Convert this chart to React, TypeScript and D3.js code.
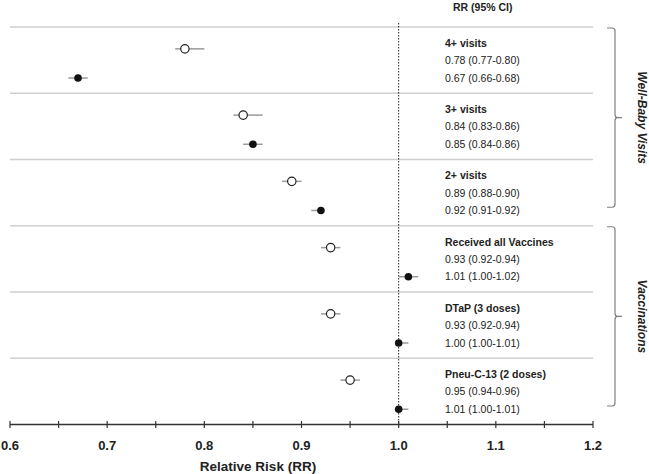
import React from 'react';
import * as d3 from 'd3';

// rows of the forest plot, top to bottom
const groups = ['4+ visits', '3+ visits', '2+ visits', 'Received all Vaccines', 'DTaP (3 doses)', 'Pneu-C-13 (2 doses)'];

// open circles (first estimate in each row)
const openRR = [0.78, 0.84, 0.89, 0.93, 0.93, 0.95];
const openLo = [0.77, 0.83, 0.88, 0.92, 0.92, 0.94];
const openHi = [0.80, 0.86, 0.90, 0.94, 0.94, 0.96];
const openText = ['0.78 (0.77-0.80)', '0.84 (0.83-0.86)', '0.89 (0.88-0.90)', '0.93 (0.92-0.94)', '0.93 (0.92-0.94)', '0.95 (0.94-0.96)'];

// filled circles (second estimate)
const filledRR = [0.67, 0.85, 0.92, 1.01, 1.0, 1.0];
const filledLo = [0.66, 0.84, 0.91, 1.0, 1.0, 1.0];
const filledHi = [0.68, 0.86, 0.92, 1.02, 1.01, 1.01];
const filledText = ['0.67 (0.66-0.68)', '0.85 (0.84-0.86)', '0.92 (0.91-0.92)', '1.01 (1.00-1.02)', '1.00 (1.00-1.01)', '1.01 (1.00-1.01)'];

const sections = [
  { label: 'Well-Baby Visits', start: 0, end: 3 },
  { label: 'Vaccinations', start: 3, end: 6 },
];

const tickValues = d3.range(0.6, 1.2001, 0.05);
const tickLabels = ['0.6', '0.7', '0.8', '0.9', '1.0', '1.1', '1.2'];

const W = 649;
const H = 474;
const FONT = '"Liberation Sans", Arial, Helvetica, sans-serif';

export default function App() {
  const x = d3.scaleLinear().domain([0.6, 1.2]).range([10, 593]);
  const y = d3.scaleLinear().domain([0, groups.length]).range([27, 424.5]);
  const axisY = y(groups.length);
  const textX = 445;
  const ciColor = '#9a9a9a';

  const bracket = (top: number, bottom: number) => {
    const bx = 615;
    const mid = (top + bottom) / 2;
    const r = 3;
    return [
      `M${bx - 8},${top}`,
      `L${bx - r},${top}`,
      `Q${bx},${top} ${bx},${top + r}`,
      `L${bx},${mid - r}`,
      `Q${bx},${mid} ${bx + r},${mid}`,
      `L${bx + 7},${mid}`,
      `M${bx + r},${mid}`,
      `Q${bx},${mid} ${bx},${mid + r}`,
      `L${bx},${bottom - r}`,
      `Q${bx},${bottom} ${bx - r},${bottom}`,
      `L${bx - 8},${bottom}`,
    ].join(' ');
  };

  return (
    <div style={{ position: 'absolute', left: 0, top: 0 }}>
      <svg width={W} height={H} viewBox={`0 0 ${W} ${H}`} style={{ display: 'block', background: '#fff' }} fontFamily={FONT}>
        {/* separators */}
        {groups.map((g, i) => (
          <line key={'sep' + g} x1={x(0.6)} x2={x(1.2)} y1={y(i)} y2={y(i)} stroke="#cfcfcf" strokeWidth={1.5} />
        ))}

        {/* reference line at RR = 1 */}
        <line x1={x(1)} x2={x(1)} y1={23} y2={axisY} stroke="#222" strokeWidth={1} strokeDasharray="1.5 1.5" />

        {/* header */}
        <text x={453} y={11} fontSize={10.5} fontWeight="bold" fill="#222">RR (95% CI)</text>

        {/* rows */}
        {groups.map((g, i) => {
          const yo = y(i + 0.33);
          const yf = y(i + 0.77);
          return (
            <g key={g}>
              <line x1={x(openLo[i])} x2={x(openHi[i])} y1={yo} y2={yo} stroke={ciColor} strokeWidth={1.5} />
              <circle cx={x(openRR[i])} cy={yo} r={4.2} fill="#fff" stroke="#222" strokeWidth={1.2} />
              <line x1={x(filledLo[i])} x2={x(filledHi[i])} y1={yf} y2={yf} stroke={ciColor} strokeWidth={1.5} />
              <circle cx={x(filledRR[i])} cy={yf} r={3.8} fill="#111" />

              <text x={textX} y={y(i + 0.245)} dy="0.35em" fontSize={10.5} fontWeight="bold" fill="#222">{g}</text>
              <text x={textX} y={y(i + 0.505)} dy="0.35em" fontSize={10.5} fill="#222">{openText[i]}</text>
              <text x={textX} y={y(i + 0.77)} dy="0.35em" fontSize={10.5} fill="#222">{filledText[i]}</text>
            </g>
          );
        })}

        {/* section brackets */}
        {sections.map((s) => {
          const top = y(s.start) + 1;
          const bottom = y(s.end) - 18.5;
          const mid = (top + bottom) / 2;
          return (
            <g key={s.label}>
              <path d={bracket(top, bottom)} fill="none" stroke="#808080" strokeWidth={1.2} />
              <text
                transform={`translate(642,${mid}) rotate(90)`}
                textAnchor="middle"
                dy="0.35em"
                fontSize={12}
                fontWeight="bold"
                fontStyle="italic"
                fill="#222"
              >
                {s.label}
              </text>
            </g>
          );
        })}

        {/* x axis */}
        <line x1={x(0.6)} x2={x(1.2)} y1={axisY} y2={axisY} stroke="#333" strokeWidth={1.5} />
        {tickValues.map((t) => (
          <line key={'t' + t} x1={x(t)} x2={x(t)} y1={axisY - 3.5} y2={axisY + 3.5} stroke="#333" strokeWidth={1.2} />
        ))}
        {tickLabels.map((t) => (
          <text key={t} x={x(+t)} y={445} dy="0.35em" textAnchor="middle" fontSize={13} fontWeight="bold" fill="#222">{t}</text>
        ))}
        <text x={258} y={466} dy="0.35em" textAnchor="middle" fontSize={13.5} fontWeight="bold" fill="#222">Relative Risk (RR)</text>
      </svg>
    </div>
  );
}
